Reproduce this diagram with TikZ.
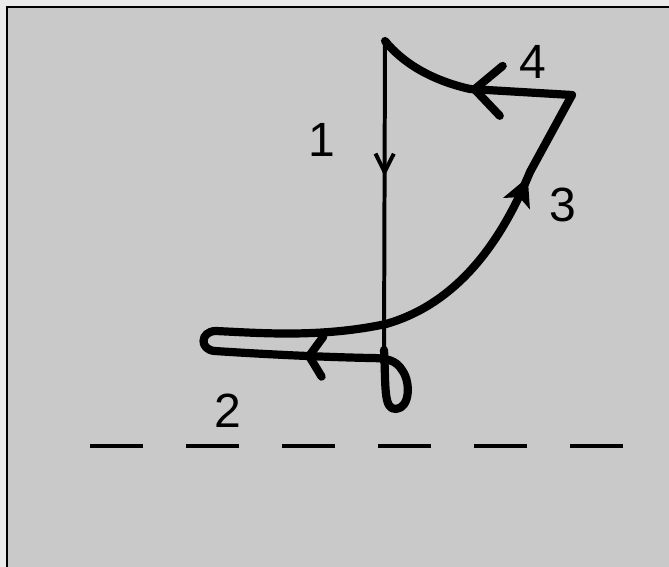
\documentclass[tikz,border=0pt]{standalone}
\usepackage{fontspec}
\setmainfont{Liberation Sans}
\usetikzlibrary{arrows.meta,decorations.markings}

\begin{document}
\begin{tikzpicture}[x=0.03cm,y=-0.03cm,
  thickline/.style={line width=7pt,line cap=round,line join=round},
  thinline/.style={line width=3.4pt,line cap=round},
  numlabel/.style={font=\fontsize{41}{41}\selectfont,inner sep=0pt},
  arrowat/.style 2 args={postaction={decorate,decoration={markings,
    mark=at position #1 with {\arrow{#2}}}}}]
  \useasboundingbox (0,0) rectangle (669,567); % 画像全体の大きさ
  \fill[black!8] (0,0) rectangle (669,567); % 外側の余白
  \fill[black!21] (7,7) rectangle (669,567); % 枠の内側の灰色の地
  \draw[line width=1.7pt] (7,567) -- (7,7) -- (669,7); % 枠の左と上の線
  \coordinate (top) at (385,41); % 経路1の始点（上端）
  \coordinate (corner) at (572,95); % 経路3と経路4の角
  \coordinate (cross) at (386,324); % 経路が縦線と交わる点
  \coordinate (loopend) at (370,358); % 小さな輪の終わり
  \draw[thinline,arrowat={0.43}{Straight Barb[length=5.5mm,width=5.5mm]}]
    (top) -- (384,356); % 経路1（下向きの細い線）
  \draw[thickline] (384,350) .. controls (386,385) and (383,410) .. (396,409)
    .. controls (410,408) and (411,382) .. (402,370)
    .. controls (396,360) and (386,358) .. (loopend); % 下端の小さな輪
  \draw[thickline,arrowat={1.95cm}{Straight Barb[length=4mm,width=12mm,round]}]
    (loopend) .. controls (320,357) and (260,354) .. (215,351)
    .. controls (199,350) and (200,331) .. (216,331)
    .. controls (260,333) and (320,338) .. (cross); % 経路2（左へ伸びる輪）
  \draw[thickline,arrowat={-2.8cm}{Stealth[length=8.5mm,width=8.5mm,inset=2mm]}]
    (cross) .. controls (470,300) and (510,220) .. (530,172) -- (corner); % 経路3
  \draw[thickline,arrowat={3.05cm}{Straight Barb[length=8mm,width=15mm,round]}]
    (corner) -- (470,89) .. controls (430,80) and (402,62) .. (top); % 経路4
  \draw[line width=4pt,dash pattern=on 1.59cm off 1.29cm]
    (90,446) -- (623,446); % 基準の破線
  \node[numlabel] (n1) at (322,140) {1}; % 番号1
  \node[numlabel] (n2) at (228,411) {2}; % 番号2
  \node[numlabel] (n3) at (563,205) {3}; % 番号3
  \node[numlabel] (n4) at (533,62) {4}; % 番号4
\end{tikzpicture}
\end{document}
